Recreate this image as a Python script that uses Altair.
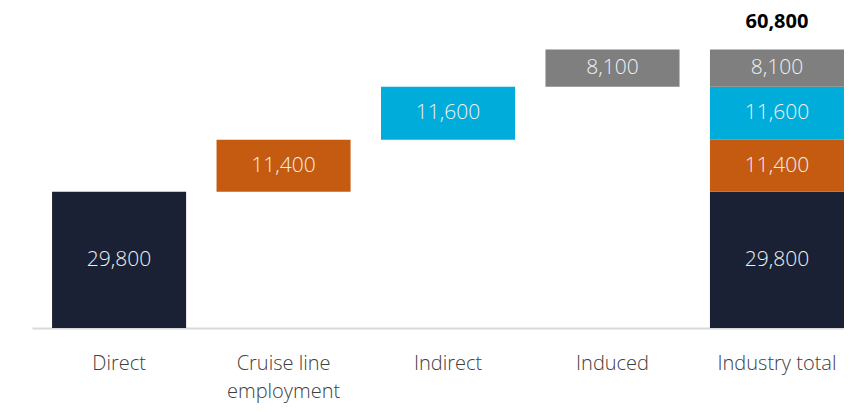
import altair as alt
import pandas as pd

categories = ["Direct", "Cruise line employment", "Indirect", "Induced", "Industry total"]
components = ["Direct", "Cruise line employment", "Indirect", "Induced"]
values = [29800, 11400, 11600, 8100]
labels = ["29,800", "11,400", "11,600", "8,100"]
colors = ["#1a2135", "#c55a11", "#00acd9", "#7f7f7f"]
total_label = "60,800"

rows = []
cum = 0
for comp, v, lab, col in zip(components, values, labels, colors):
    rows.append({"cat": comp, "start": cum, "end": cum + v, "label": lab, "color": col})
    rows.append({"cat": "Industry total", "start": cum, "end": cum + v, "label": lab, "color": col})
    cum += v
df = pd.DataFrame(rows)
df["mid"] = (df["start"] + df["end"]) / 2
tot = pd.DataFrame([{"cat": "Industry total", "end": cum, "label": total_label}])

x = alt.X("cat:N", sort=categories, title=None,
          scale=alt.Scale(paddingInner=0.185, paddingOuter=0.061, align=1),
          axis=alt.Axis(labelAngle=0, ticks=False, domainColor="#d9d9d9", domainWidth=2,
                        labelFont="Open Sans", labelFontSize=20, labelFontWeight=300,
                        labelColor="#404040", labelPadding=25, labelLineHeight=28,
                        labelExpr="datum.label == 'Cruise line employment' ? ['Cruise line', 'employment'] : datum.label"))
y = alt.Y("start:Q", scale=alt.Scale(domain=[0, 69500]), axis=None)

bars = alt.Chart(df).mark_bar(stroke=None).encode(
    x=x, y=y, y2="end:Q", color=alt.Color("color:N", scale=None))
txt = alt.Chart(df).mark_text(font="Open Sans", fontSize=21, fontWeight=300, color="#f0f0f0",
                               baseline="middle").encode(
    x=alt.X("cat:N", sort=categories), y=alt.Y("mid:Q"), text="label:N")
ttxt = alt.Chart(tot).mark_text(font="Open Sans", fontSize=20, fontWeight="bold", color="#000000",
                                 baseline="middle", dy=-28).encode(
    x=alt.X("cat:N", sort=categories), y=alt.Y("end:Q"), text="label:N")

chart = alt.layer(bars, txt, ttxt).properties(
    width=836, height=396,
    autosize=alt.AutoSizeParams(type="fit", contains="padding"),
    padding={"left": 24, "top": 0, "right": 0, "bottom": 3}
).configure_view(stroke=None)

chart.save("out.html", embed_options={"renderer": "svg", "actions": False})
